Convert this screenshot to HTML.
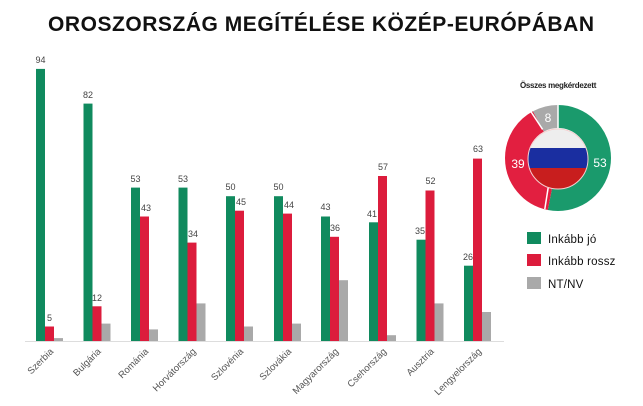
<!DOCTYPE html>
<html><head><meta charset="utf-8"><style>
html,body{margin:0;padding:0;background:#fff;}
svg{display:block;font-family:"Liberation Sans",sans-serif;}
.g{fill:#108a5e}.r{fill:#dc1c3c}.n{fill:#a9a9a9}
.v{font-size:9px;fill:#444;text-anchor:middle}
.l{font-size:9.5px;fill:#555;text-anchor:end}
</style></head><body>
<svg width="643" height="406" viewBox="0 0 643 406">
<text x="322" y="31" text-anchor="middle" font-size="21" font-weight="bold" fill="#111" letter-spacing="2" textLength="548" lengthAdjust="spacing">OROSZORSZÁG MEGÍTÉLÉSE KÖZÉP-EURÓPÁBAN</text>
<line x1="25" y1="341.5" x2="504" y2="341.5" stroke="#ddd" stroke-width="1"/>
<rect class="g" x="36" y="68.9" width="9" height="272.1"/><rect class="r" x="45" y="326.5" width="9" height="14.5"/><rect class="n" x="54" y="338.1" width="9" height="2.9"/>
<text class="v" x="40.5" y="63">94</text><text class="v" x="49.5" y="321">5</text>
<rect class="g" x="83.5" y="103.6" width="9" height="237.4"/><rect class="r" x="92.5" y="306.3" width="9" height="34.7"/><rect class="n" x="101.5" y="323.6" width="9" height="17.4"/>
<text class="v" x="88" y="98">82</text><text class="v" x="97" y="301">12</text>
<rect class="g" x="131" y="187.6" width="9" height="153.4"/><rect class="r" x="140" y="216.5" width="9" height="124.5"/><rect class="n" x="149" y="329.4" width="9" height="11.6"/>
<text class="v" x="135.5" y="182">53</text><text class="v" x="146" y="211">43</text>
<rect class="g" x="178.5" y="187.6" width="9" height="153.4"/><rect class="r" x="187.5" y="242.6" width="9" height="98.4"/><rect class="n" x="196.5" y="303.4" width="9" height="37.6"/>
<text class="v" x="183" y="182">53</text><text class="v" x="193" y="237">34</text>
<rect class="g" x="226" y="196.2" width="9" height="144.8"/><rect class="r" x="235" y="210.7" width="9" height="130.3"/><rect class="n" x="244" y="326.5" width="9" height="14.5"/>
<text class="v" x="230.5" y="190">50</text><text class="v" x="241" y="205">45</text>
<rect class="g" x="274" y="196.2" width="9" height="144.8"/><rect class="r" x="283" y="213.6" width="9" height="127.4"/><rect class="n" x="292" y="323.6" width="9" height="17.4"/>
<text class="v" x="278.5" y="190">50</text><text class="v" x="289" y="208">44</text>
<rect class="g" x="321" y="216.5" width="9" height="124.5"/><rect class="r" x="330" y="236.8" width="9" height="104.2"/><rect class="n" x="339" y="280.2" width="9" height="60.8"/>
<text class="v" x="325.5" y="210">43</text><text class="v" x="335" y="231">36</text>
<rect class="g" x="369" y="222.3" width="9" height="118.7"/><rect class="r" x="378" y="176" width="9" height="165"/><rect class="n" x="387" y="335.2" width="9" height="5.8"/>
<text class="v" x="372" y="217">41</text><text class="v" x="383" y="170">57</text>
<rect class="g" x="416.5" y="239.7" width="9" height="101.3"/><rect class="r" x="425.5" y="190.5" width="9" height="150.5"/><rect class="n" x="434.5" y="303.4" width="9" height="37.6"/>
<text class="v" x="420" y="234">35</text><text class="v" x="430.5" y="184">52</text>
<rect class="g" x="464" y="265.7" width="9" height="75.3"/><rect class="r" x="473" y="158.6" width="9" height="182.4"/><rect class="n" x="482" y="312" width="9" height="29"/>
<text class="v" x="468" y="260">26</text><text class="v" x="478" y="152">63</text>
<g>
<text class="l" transform="translate(54,352) rotate(-45)">Szerbia</text>
<text class="l" transform="translate(101.5,352) rotate(-45)">Bulgária</text>
<text class="l" transform="translate(149,352) rotate(-45)">Románia</text>
<text class="l" transform="translate(196.5,352) rotate(-45)">Horvátország</text>
<text class="l" transform="translate(244,352) rotate(-45)">Szlovénia</text>
<text class="l" transform="translate(292,352) rotate(-45)">Szlovákia</text>
<text class="l" transform="translate(339,352) rotate(-45)">Magyarország</text>
<text class="l" transform="translate(387,352) rotate(-45)">Csehország</text>
<text class="l" transform="translate(434.5,352) rotate(-45)">Ausztria</text>
<text class="l" transform="translate(482,352) rotate(-45)">Lengyelország</text>
</g>
<text x="558" y="88" text-anchor="middle" font-size="8" font-weight="bold" fill="#222" letter-spacing="-0.3">Összes megkérdezett</text>
<g transform="rotate(-90 558 158)" fill="none" stroke-width="23">
<circle cx="558" cy="158" r="41.5" stroke="#1a9a6c" stroke-dasharray="138.2 400"/>
<circle cx="558" cy="158" r="41.5" stroke="#e21f40" stroke-dasharray="0 138.2 101.7 400"/>
<circle cx="558" cy="158" r="41.5" stroke="#a9a9a9" stroke-dasharray="0 239.9 20.9 400"/>
</g>
<line x1="558" y1="105" x2="558" y2="128" stroke="#fff" stroke-width="1.5"/>
<line x1="548.2" y1="187.5" x2="544.8" y2="209.1" stroke="#fff" stroke-width="1.5"/>
<line x1="542.6" y1="129.4" x2="530.8" y2="111.5" stroke="#fff" stroke-width="1.5"/>
<defs><clipPath id="fc"><circle cx="558" cy="159" r="30"/></clipPath></defs>
<g clip-path="url(#fc)">
<rect x="526" y="128" width="64" height="20" fill="#eeeeee"/>
<rect x="526" y="148" width="64" height="20" fill="#1a2ea0"/>
<rect x="526" y="168" width="64" height="22" fill="#c81e1e"/>
</g>
<circle cx="558" cy="159" r="30" fill="none" stroke="#f4d0d0" stroke-width="1"/>
<text x="600" y="167" text-anchor="middle" font-size="12" fill="#fff">53</text>
<text x="518" y="168" text-anchor="middle" font-size="12" fill="#fff">39</text>
<text x="548" y="122" text-anchor="middle" font-size="12" fill="#fff">8</text>
<rect x="527" y="232" width="14" height="12" fill="#108a5e"/>
<rect x="527" y="254" width="14" height="12" fill="#dc1c3c"/>
<rect x="527" y="277" width="14" height="12" fill="#a9a9a9"/>
<g font-size="11.5" fill="#111" letter-spacing="0.2">
<text x="548" y="243">Inkább jó</text>
<text x="548" y="265">Inkább rossz</text>
<text x="548" y="288">NT/NV</text>
</g>
</svg>
</body></html>
